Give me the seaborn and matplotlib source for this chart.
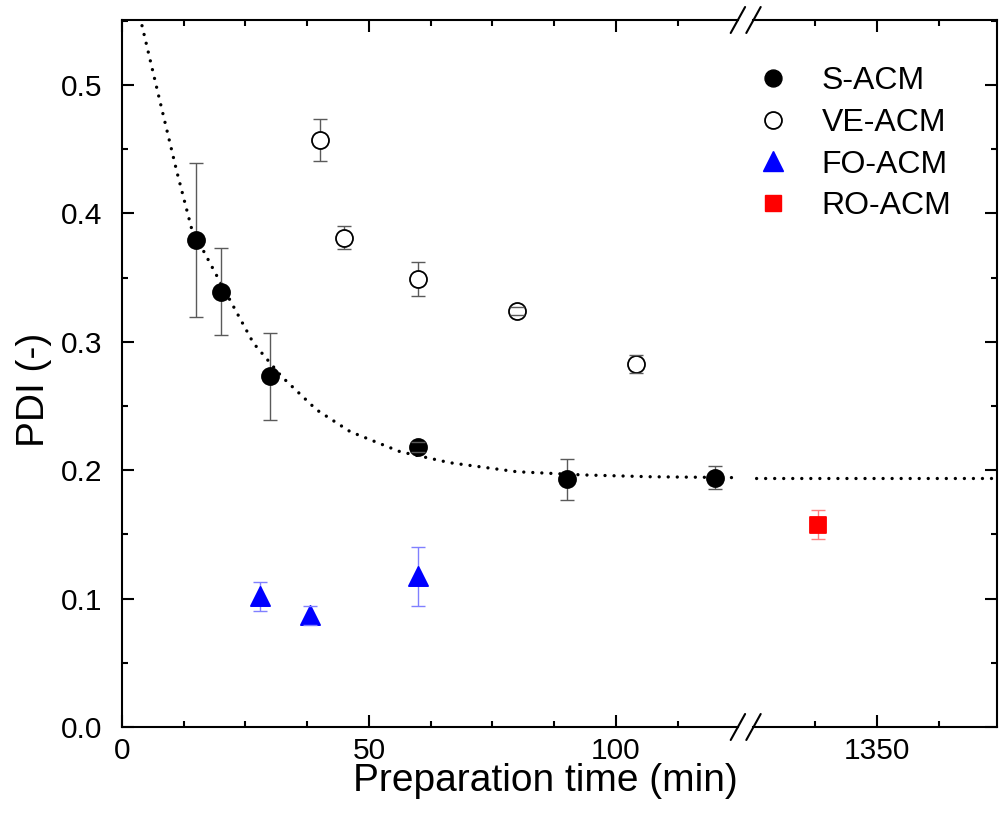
import matplotlib
matplotlib.use("Agg")
import matplotlib.pyplot as plt
from matplotlib.lines import Line2D
from matplotlib.ticker import FixedLocator, MultipleLocator
import seaborn as sns

# ---- measured data -------------------------------------------------------
s_time = [15, 20, 30, 60, 90, 120]
s_pdi = [0.379, 0.339, 0.273, 0.218, 0.193, 0.194]
s_err = [0.060, 0.034, 0.034, 0.004, 0.016, 0.009]

ve_time = [40, 45, 60, 80, 104]
ve_pdi = [0.457, 0.381, 0.349, 0.324, 0.2825]
ve_err = [0.0165, 0.009, 0.013, 0.003, 0.007]

fo_time = [28, 38, 60]
fo_pdi = [0.102, 0.087, 0.1175]
fo_err = [0.0113, 0.0074, 0.023]

ro_time = [1338]
ro_pdi = [0.1576]
ro_err = [0.0112]

# exponential-decay trend for S-ACM (sampled curve)
fit_time = [3.6, 4.0, 7.7, 11.1, 14.1, 19.8, 26.6, 32.3, 39.4, 46.2,
            56.3, 66.4, 79.9, 93.4, 106.9, 124.4]
fit_pdi = [0.553, 0.547, 0.487, 0.4325, 0.388, 0.347, 0.299, 0.273, 0.247,
           0.230, 0.2144, 0.2058, 0.1988, 0.1963, 0.1949, 0.1942]
fit_time_long = [1320, 1380]
fit_pdi_long = [0.1939, 0.1939]

series_labels = ["S-ACM", "VE-ACM", "FO-ACM", "RO-ACM"]
x_major_short = [0, 50, 100]
x_minor_short = [12.5, 25, 37.5, 62.5, 75, 87.5, 112.5]
x_major_long = [1350]
x_minor_long = [1337.5, 1362.5]
y_major = [0.0, 0.1, 0.2, 0.3, 0.4, 0.5]

# ---- style ---------------------------------------------------------------
sns.set_theme(style="ticks")
plt.rcParams["font.family"] = ["Liberation Sans", "DejaVu Sans"]
plt.rcParams.update({
    "axes.linewidth": 1.5,
    "text.color": "black",
    "axes.labelcolor": "black",
    "xtick.color": "black",
    "ytick.color": "black",
    "axes.edgecolor": "black",
})

W, H = 1004, 831
fig = plt.figure(figsize=(W / 100, H / 100), dpi=100)

x0_px, xb1_px, xb2_px, x1_px = 122, 738, 753, 997
top_px, bot_px = 20, 727
ax1 = fig.add_axes([x0_px / W, 1 - bot_px / H, (xb1_px - x0_px) / W, (bot_px - top_px) / H])
ax2 = fig.add_axes([xb2_px / W, 1 - bot_px / H, (x1_px - xb2_px) / W, (bot_px - top_px) / H])

ax1.set_xlim(0, 124.7)
ax2.set_xlim(1324.9, 1374.2)
for ax in (ax1, ax2):
    ax.set_ylim(0, 0.5506)
    ax.set_facecolor("white")

dot_style = dict(color="black", linewidth=2.4, linestyle=(0, (0.01, 2.7)),
                 dash_capstyle="round")
sns.lineplot(x=fit_time, y=fit_pdi, ax=ax1, sort=False, zorder=1, **dot_style)
sns.lineplot(x=fit_time_long, y=fit_pdi_long, ax=ax2, sort=False, zorder=1, **dot_style)


def draw_series(ax, x, y, err, marker, size, face, edge, ecolor):
    _, caps, bars = ax.errorbar(x, y, yerr=err, fmt="none", ecolor=ecolor,
                                elinewidth=1.0, capsize=5, capthick=1.0)
    for b in bars:
        b.set_zorder(2)
    for c in caps:
        c.set_zorder(4)
    sns.scatterplot(x=x, y=y, ax=ax, marker=marker, s=size, color=face,
                    edgecolor=edge, linewidth=1.3, zorder=3, legend=False)


draw_series(ax1, s_time, s_pdi, s_err, "o", 150, "black", "black", "#5a5a5a")
draw_series(ax1, ve_time, ve_pdi, ve_err, "o", 150, "white", "black", "#5a5a5a")
draw_series(ax1, fo_time, fo_pdi, fo_err, "^", 190, "#0000ff", "#0000ff", "#8080ff")
draw_series(ax2, ro_time, ro_pdi, ro_err, "s", 125, "#ff0000", "#ff0000", "#ff8080")

# ---- axes decoration -----------------------------------------------------
tick_kw = dict(direction="in", colors="black", width=1.5)
for ax in (ax1, ax2):
    ax.tick_params(which="major", length=8.6, labelsize=21.5, **tick_kw)
    ax.tick_params(which="minor", length=4.3, **tick_kw)
    ax.yaxis.set_major_locator(FixedLocator(y_major))
    ax.yaxis.set_minor_locator(MultipleLocator(0.05))
    for sp in ax.spines.values():
        sp.set_color("black")
        sp.set_linewidth(1.5)
    ax.set_xlabel("")
    ax.set_ylabel("")

ax1.xaxis.set_major_locator(FixedLocator(x_major_short))
ax1.xaxis.set_minor_locator(FixedLocator(x_minor_short))
ax2.xaxis.set_major_locator(FixedLocator(x_major_long))
ax2.xaxis.set_minor_locator(FixedLocator(x_minor_long))
ax1.set_yticklabels(["0.0", "0.1", "0.2", "0.3", "0.4", "0.5"])
ax1.set_xticklabels([str(v) for v in x_major_short])
ax2.set_xticklabels([str(v) for v in x_major_long])

ax1.spines["right"].set_visible(False)
ax2.spines["left"].set_visible(False)
ax1.tick_params(axis="x", which="both", top=True, bottom=True, pad=7.5)
ax2.tick_params(axis="x", which="both", top=True, bottom=True, pad=7.5)
ax1.tick_params(axis="y", which="both", left=True, right=False, pad=14)
ax2.tick_params(axis="y", which="both", left=False, right=True,
                labelleft=False, labelright=False)

# break marks on the x axis
for yb in (bot_px, top_px):
    for xc in (737.9, 753.5):
        fig.add_artist(Line2D([(xc - 7.2) / W, (xc + 7.2) / W],
                              [1 - (yb + 13) / H, 1 - (yb - 13) / H],
                              transform=fig.transFigure, color="black",
                              linewidth=1.5, zorder=10))

fig.text(545 / W, 1 - 791 / H, "Preparation time (min)", fontsize=28,
         ha="center", va="baseline")
fig.text(34 / W, 1 - 390 / H, "PDI (-)", fontsize=28, rotation=90,
         ha="center", va="center")

handles = [
    Line2D([], [], linestyle="none", marker="o", markersize=12.2,
           markerfacecolor="black", markeredgecolor="black"),
    Line2D([], [], linestyle="none", marker="o", markersize=12.2,
           markerfacecolor="white", markeredgecolor="black", markeredgewidth=1.3),
    Line2D([], [], linestyle="none", marker="^", markersize=13.7,
           markerfacecolor="#0000ff", markeredgecolor="#0000ff"),
    Line2D([], [], linestyle="none", marker="s", markersize=11.2,
           markerfacecolor="#ff0000", markeredgecolor="#ff0000"),
]
fig.legend(handles, series_labels, loc="upper left",
           bbox_to_anchor=(757 / W, 1 - 66 / H), frameon=False, fontsize=23,
           handlelength=1.0, handletextpad=1.03, borderpad=0, borderaxespad=0,
           labelspacing=0.37)

fig.savefig("out.png", dpi=100, facecolor="white")
